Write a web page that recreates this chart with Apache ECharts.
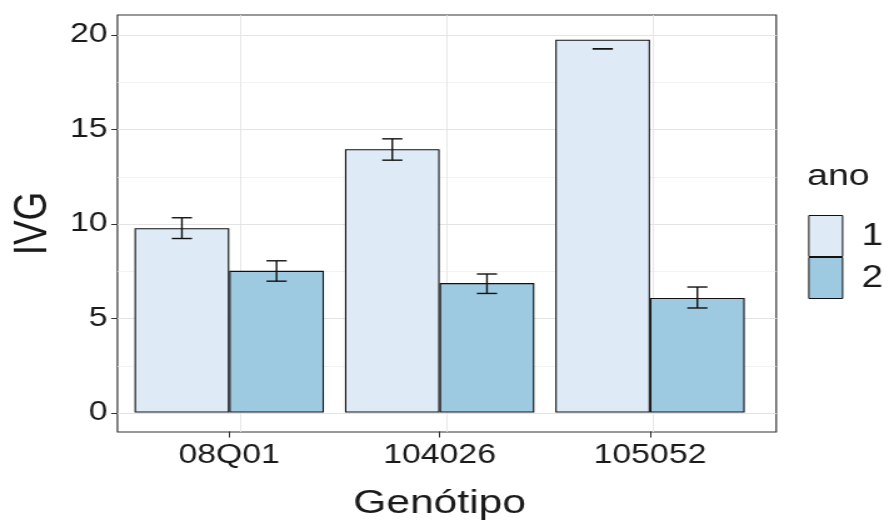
<!DOCTYPE html>
<html><head><meta charset="utf-8">
<script src="https://cdn.jsdelivr.net/npm/echarts@6/dist/echarts.min.js"></script>
<style>
html,body{margin:0;padding:0;background:#fff;overflow:hidden;width:889px;height:526px}
#wrap{width:889px;height:526px;overflow:hidden}
#chart{width:711px;height:526px;transform:scaleX(1.25035);transform-origin:0 0}
</style></head>
<body><div id="wrap"><div id="chart"></div></div>
<script>
const categories = ['08Q01', '104026', '105052'];
const seriesNames = ['1', '2'];
const ano1 = [9.77, 13.95, 19.75];
const ano2 = [7.51, 6.86, 6.07];
const ano1Low = [9.22, 13.37, 19.27];
const ano1High = [10.32, 14.50, 19.27];
const ano2Low = [6.96, 6.31, 5.54];
const ano2High = [8.04, 7.34, 6.65];
const yTicks = [0, 5, 10, 15, 20];
const yMinorTicks = [2.5, 7.5, 12.5, 17.5];

const FONT = 'Liberation Sans, Arial, sans-serif';
const TXT = '#1a1a1a';
const Y_MIN = -1.003, Y_MAX = 21.06;

const chart = echarts.init(document.getElementById('chart'), null, {renderer: 'canvas'});

function errSeries(name, low, high, sign) {
  return {
    type: 'custom', name: name + '_err', xAxisIndex: 1, yAxisIndex: 1, z: 4,
    silent: true,
    data: categories.map((c, i) => [i, low[i], high[i]]),
    encode: {x: 0, y: [1, 2]},
    renderItem: function (params, api) {
      const i = api.value(0), lo = api.value(1), hi = api.value(2);
      const pLo = api.coord([i, lo]), pHi = api.coord([i, hi]);
      const band = api.size([1, 0])[0];
      const cx = pLo[0] + sign * band * 0.225;
      const half = band * 0.048;
      const st = {stroke: '#111111', lineWidth: 1.4};
      return {type: 'group', children: [
        {type: 'line', shape: {x1: cx, y1: pHi[1], x2: cx, y2: pLo[1]}, style: st},
        {type: 'line', shape: {x1: cx - half, y1: pHi[1], x2: cx + half, y2: pHi[1]}, style: st},
        {type: 'line', shape: {x1: cx - half, y1: pLo[1], x2: cx + half, y2: pLo[1]}, style: st}
      ]};
    }
  };
}

const gridLineData = []
  .concat(yMinorTicks.map(v => ({yAxis: v, lineStyle: {color: '#EDEDED', width: 0.7, type: 'solid'}})))
  .concat(yTicks.map(v => ({yAxis: v, lineStyle: {color: '#E4E4E4', width: 1.1, type: 'solid'}})))
  .concat(categories.map((c, i) => ({xAxis: i, lineStyle: {color: '#E4E4E4', width: 0.9, type: 'solid'}})));

const option = {
  backgroundColor: '#ffffff',
  animation: false,
  title: {
    text: 'ano', left: 645.5, top: 162, padding: 0,
    textStyle: {fontFamily: FONT, fontSize: 30, fontWeight: 'normal', color: TXT}
  },
  legend: {
    data: seriesNames, orient: 'vertical', left: 646.4, top: 215, padding: 0,
    itemWidth: 27, itemHeight: 41, itemGap: 0, icon: 'rect',
    itemStyle: {borderColor: '#111111', borderWidth: 1},
    textStyle: {fontFamily: FONT, fontSize: 31, color: TXT, padding: [0, 0, 0, 10]}
  },
  grid: [
    {left: 82.4, right: 90.2, top: 15, bottom: 94, show: true, borderColor: '#333333', borderWidth: 1.2, backgroundColor: 'transparent', containLabel: false},
    {left: 99.2, right: 107.0, top: 15, bottom: 94, show: false, containLabel: false}
  ],
  xAxis: [
    {type: 'value', gridIndex: 0, min: -0.6, max: 2.6, show: false, axisLine: {onZero: false}},
    {type: 'category', gridIndex: 1, data: categories,
      axisLine: {show: false, onZero: false},
      axisTick: {show: true, alignWithLabel: true, length: 6, lineStyle: {color: '#333333', width: 1}},
      axisLabel: {fontFamily: FONT, fontSize: 27, color: TXT, margin: 11},
      splitLine: {show: false},
      name: 'Genótipo', nameLocation: 'middle', nameGap: 55.5,
      nameTextStyle: {fontFamily: FONT, fontSize: 34, color: TXT}
    }
  ],
  yAxis: [
    {type: 'value', gridIndex: 0, min: Y_MIN, max: Y_MAX,
      axisLine: {show: false, onZero: false},
      axisTick: {show: true, length: 5, customValues: yTicks, lineStyle: {color: '#333333', width: 1}},
      axisLabel: {fontFamily: FONT, fontSize: 27, color: TXT, margin: 8, customValues: yTicks},
      splitLine: {show: false}, minorSplitLine: {show: false},
      name: 'IVG', nameLocation: 'middle', nameGap: 41,
      nameTextStyle: {fontFamily: FONT, fontSize: 37, color: TXT}
    },
    {type: 'value', gridIndex: 1, min: Y_MIN, max: Y_MAX, show: false, splitLine: {show: false}, axisLine: {onZero: false}}
  ],
  series: [
    {type: 'line', name: 'grid', xAxisIndex: 0, yAxisIndex: 0, data: [], silent: true, z: 0,
      markLine: {silent: true, symbol: ['none', 'none'], label: {show: false}, z: 0, animation: false,
        emphasis: {disabled: true}, data: gridLineData}
    },
    {type: 'bar', name: seriesNames[0], xAxisIndex: 1, yAxisIndex: 1, data: ano1, z: 3,
      barGap: '0%', barCategoryGap: '10%',
      itemStyle: {color: '#DEEBF7', borderColor: '#111111', borderWidth: 1.1}},
    {type: 'bar', name: seriesNames[1], xAxisIndex: 1, yAxisIndex: 1, data: ano2, z: 3,
      barGap: '0%', barCategoryGap: '10%',
      itemStyle: {color: '#9ECAE1', borderColor: '#111111', borderWidth: 1.1}},
    errSeries(seriesNames[0], ano1Low, ano1High, -1),
    errSeries(seriesNames[1], ano2Low, ano2High, 1)
  ]
};
chart.setOption(option);
</script>
</body></html>
